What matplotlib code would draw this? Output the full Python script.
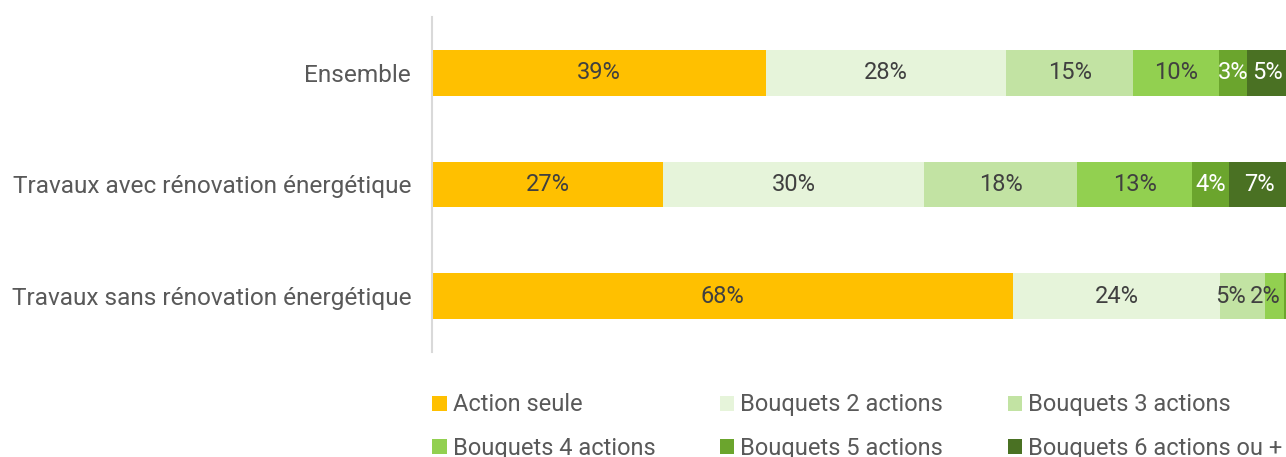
import numpy as np
import matplotlib.pyplot as plt

plt.rcParams['font.family'] = ['Roboto', 'DejaVu Sans']

categories = ["Ensemble",
              "Travaux avec rénovation énergétique",
              "Travaux sans rénovation énergétique"]
series_names = ["Action seule", "Bouquets 2 actions", "Bouquets 3 actions",
                "Bouquets 4 actions", "Bouquets 5 actions", "Bouquets 6 actions ou +"]
# share (%) per category, one list per series
action_seule = [39.0, 27.0, 67.8]
bouquets_2 = [28.0, 30.4, 24.2]
bouquets_3 = [14.8, 17.9, 5.2]
bouquets_4 = [10.0, 13.4, 2.2]
bouquets_5 = [3.3, 4.3, 0.6]
bouquets_6 = [4.9, 7.0, 0.0]

series = [action_seule, bouquets_2, bouquets_3, bouquets_4, bouquets_5, bouquets_6]
colors = ["#FFC000", "#E6F4DA", "#C2E3A3", "#92D050", "#6BA52D", "#4A7123"]
label_colors = ["#404040", "#404040", "#404040", "#404040", "white", "white"]
# small labels in the last row are pushed sideways so they don't collide
label_shift = {(2, 2): -1.4, (2, 3): -1.1, (2, 4): 1.9}

fig = plt.figure(figsize=(12.86, 4.57), dpi=100)
ax = fig.add_axes([432 / 1286, 1 - 352 / 457, 857 / 1286, 335 / 457])

y = np.arange(len(categories))
left = np.zeros(len(categories))
for si, (vals, name, col, lcol) in enumerate(zip(series, series_names, colors, label_colors)):
    vals = np.array(vals)
    ax.barh(y, vals, left=left, height=0.41, color=col, label=name)
    for yi, v, l in zip(y, vals, left):
        if v > 0:
            xc = l + v / 2 + label_shift.get((yi, si), 0)
            ax.text(xc, yi, f"{v:.0f}%", ha="center", va="center",
                    color=lcol, fontsize=17, clip_on=True)
    left += vals

ax.set_xlim(0, 100)
ax.set_ylim(2.5, -0.5)
ax.set_yticks(y)
ax.set_yticklabels(categories, fontsize=17.6, color="#595959")
ax.tick_params(axis="y", length=0, pad=15)
ax.set_xticks([])
for s in ["top", "right", "bottom"]:
    ax.spines[s].set_visible(False)
ax.spines["left"].set_color("#D9D9D9")
ax.spines["left"].set_linewidth(1.5)

# matplotlib fills legend columns first; reorder so rows read left to right
handles, labels = ax.get_legend_handles_labels()
order = [0, 3, 1, 4, 2, 5]
leg = fig.legend([handles[i] for i in order], [labels[i] for i in order],
                 loc="upper left", bbox_to_anchor=(423 / 1286, 1 - 384 / 457),
                 ncol=3, frameon=False, fontsize=17, handlelength=0.6,
                 handleheight=0.6, handletextpad=0.25, columnspacing=2.75,
                 labelspacing=0.85, borderaxespad=0)
for t in leg.get_texts():
    t.set_color("#595959")

fig.savefig("out.png", dpi=100)
